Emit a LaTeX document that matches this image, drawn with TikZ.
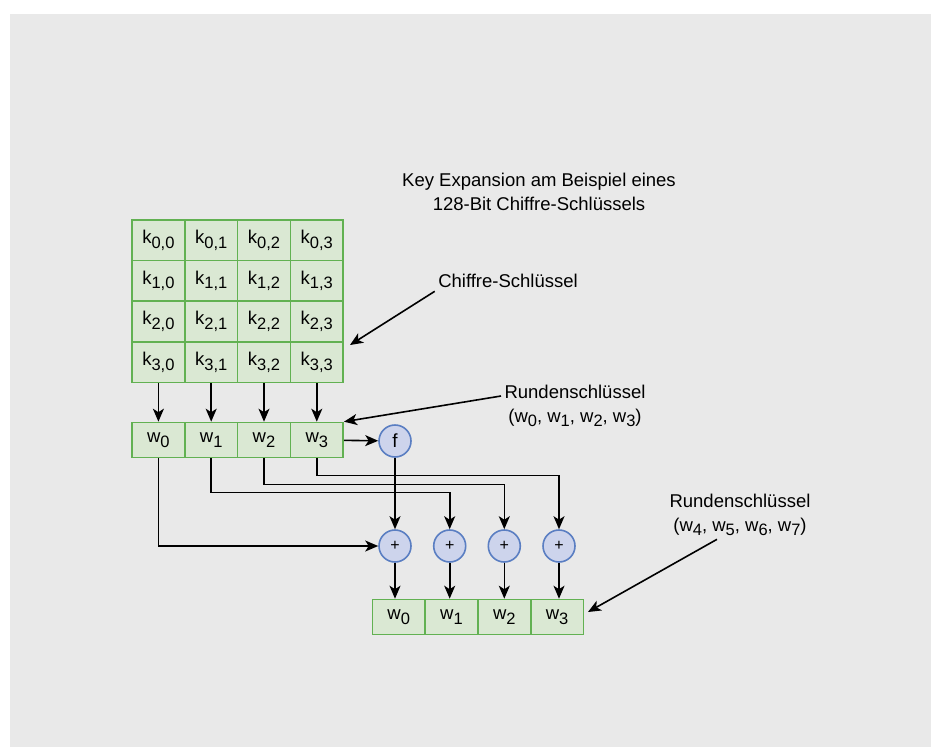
\documentclass[tikz,border=0pt]{standalone}
\usepackage{fontspec}
\setmainfont{Liberation Sans}
\usetikzlibrary{
    arrows.meta, % For arrow tips
    positioning  % For label positioning
}

\definecolor{bggrey}{HTML}{E9E9E9}
\definecolor{cellgreen}{HTML}{DAE8D3}
\definecolor{edgegreen}{HTML}{62B152}
\definecolor{opblue}{HTML}{CDD4EC}
\definecolor{edgeblue}{HTML}{5A7EC2}

% lowered index, drawn nearly as large as the letter
\newcommand{\idx}[1]{\raisebox{-4.5pt}{\fontsize{16.5}{16.5}\selectfont #1}}

\begin{document}
\begin{tikzpicture}[
    x=1pt, y=-1pt, % pixel grid of the picture
    >={Stealth[length=13pt, width=11pt, inset=3.5pt]}, % Default arrow tip
    txt/.style={font=\fontsize{18.5}{23.5}\selectfont, align=center}, % All texts
    kcell/.style={txt, draw=edgegreen, fill=cellgreen, line width=1.6pt,
        minimum width=52.8pt, minimum height=40.6pt, inner sep=0pt}, % Key bytes
    wcell/.style={kcell, minimum height=35pt}, % Words
    op/.style={circle, draw=edgeblue, fill=opblue, line width=1.6pt,
        minimum size=32pt, inner sep=0pt, font=\fontsize{16}{16}\selectfont}, % f and XOR
    flow/.style={->, line width=1.6pt}, % Arrows
]

    % Background
    \useasboundingbox (0,0) rectangle (938,747);
    \fill[bggrey] (10,14) rectangle (931,747);

    % Title
    \node[txt] (title) at (539,192) {Key Expansion am Beispiel eines\\128-Bit Chiffre-Schlüssels};

    % Chiffre-Schlüssel (4x4)
    \node[kcell] (k00) at (158.4,240.3) {k\idx{0,0}};
    \node[kcell] (k01) at (211.2,240.3) {k\idx{0,1}};
    \node[kcell] (k02) at (264.0,240.3) {k\idx{0,2}};
    \node[kcell] (k03) at (316.8,240.3) {k\idx{0,3}};
    \node[kcell] (k10) at (158.4,280.9) {k\idx{1,0}};
    \node[kcell] (k11) at (211.2,280.9) {k\idx{1,1}};
    \node[kcell] (k12) at (264.0,280.9) {k\idx{1,2}};
    \node[kcell] (k13) at (316.8,280.9) {k\idx{1,3}};
    \node[kcell] (k20) at (158.4,321.5) {k\idx{2,0}};
    \node[kcell] (k21) at (211.2,321.5) {k\idx{2,1}};
    \node[kcell] (k22) at (264.0,321.5) {k\idx{2,2}};
    \node[kcell] (k23) at (316.8,321.5) {k\idx{2,3}};
    \node[kcell] (k30) at (158.4,362.1) {k\idx{3,0}};
    \node[kcell] (k31) at (211.2,362.1) {k\idx{3,1}};
    \node[kcell] (k32) at (264.0,362.1) {k\idx{3,2}};
    \node[kcell] (k33) at (316.8,362.1) {k\idx{3,3}};

    % First round key w0..w3
    \node[wcell] (w0) at (158.4,440) {w\idx{0}};
    \node[wcell] (w1) at (211.2,440) {w\idx{1}};
    \node[wcell] (w2) at (264.0,440) {w\idx{2}};
    \node[wcell] (w3) at (316.8,440) {w\idx{3}};

    % Function f and XOR nodes
    \node[op, font=\fontsize{19}{19}\selectfont] (f) at (395,441) {f};
    \node[op] (x0) at (395,546) {+};
    \node[op] (x1) at (449.7,546) {+};
    \node[op] (x2) at (504.3,546) {+};
    \node[op] (x3) at (559,546) {+};

    % Next round key
    \node[wcell] (n0) at (398.7,617) {w\idx{0}};
    \node[wcell] (n1) at (451.5,617) {w\idx{1}};
    \node[wcell] (n2) at (504.3,617) {w\idx{2}};
    \node[wcell] (n3) at (557.1,617) {w\idx{3}};

    % Columns down into the words
    \draw[flow] (k30) -- (w0);
    \draw[flow] (k31) -- (w1);
    \draw[flow] (k32) -- (w2);
    \draw[flow] (k33) -- (w3);

    % Wiring
    \draw[flow] (w3) -- (f);
    \draw[flow] (f) -- (x0);
    \draw[flow] (w0.south) |- (x0.west);
    \draw[flow] (w1.south) -- +(0,34) -| (x1.north);
    \draw[flow] (w2.south) -- +(0,26) -| (x2.north);
    \draw[flow] (w3.south) -- +(0,17) -| (x3.north);
    \draw[flow] (x0.south) -- (x0.south |- n0.north);
    \draw[flow] (x1.south) -- (x1.south |- n1.north);
    \draw[flow] (x2.south) -- (x2.south |- n2.north);
    \draw[flow] (x3.south) -- (x3.south |- n3.north);

    % Labels
    \node[txt] (keylbl) at (508,281) {Chiffre-Schlüssel};
    \node[txt] (rk1) at (575,406) {Rundenschlüssel\\(w\idx{0}, w\idx{1}, w\idx{2}, w\idx{3})};
    \node[txt] (rk2) at (740,515) {Rundenschlüssel\\(w\idx{4}, w\idx{5}, w\idx{6}, w\idx{7})};

    % Label pointers
    \coordinate (keytip) at (350,345);
    \coordinate (rk2tip) at (588,612);
    \draw[flow] (keylbl.south west) -- (keytip);
    \draw[flow] ([yshift=10pt]rk1.west) -- (w3.north east);
    \draw[flow] ([xshift=-23pt]rk2.south) -- (rk2tip);

\end{tikzpicture}
\end{document}
